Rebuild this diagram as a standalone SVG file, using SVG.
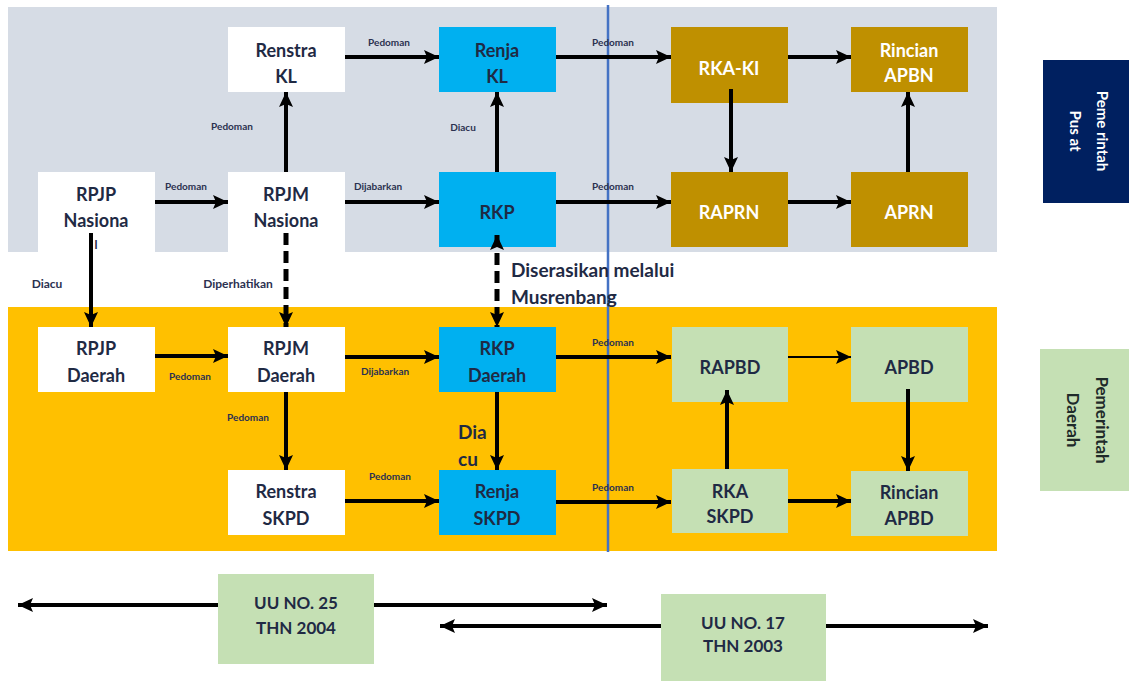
<svg xmlns="http://www.w3.org/2000/svg" width="1129" height="681" viewBox="0 0 1129 681">
<style>
.t{font-family:Lato,"Open Sans","Liberation Sans",sans-serif;font-weight:bold;font-size:18px;fill:#1F2A44;text-anchor:middle}
.w{fill:#ffffff}
.s{font-family:Lato,"Open Sans","Liberation Sans",sans-serif;font-weight:bold;font-size:10px;fill:#2B3150;text-anchor:middle}
.m{font-family:Lato,"Open Sans","Liberation Sans",sans-serif;font-weight:bold;font-size:12px;fill:#2B3150;text-anchor:middle}
.b{font-family:Lato,"Open Sans","Liberation Sans",sans-serif;font-weight:bold;font-size:19px;fill:#1F2A44}
.r{font-family:Lato,"Open Sans","Liberation Sans",sans-serif;font-weight:bold;text-anchor:middle}
.a{stroke:#000;stroke-width:4;fill:none;marker-end:url(#ah)}
.a2{stroke:#000;stroke-width:2;fill:none;marker-end:url(#ah)}
.d{stroke:#000;stroke-width:5;fill:none;stroke-dasharray:12 6;marker-end:url(#ah)}
.dd{stroke:#000;stroke-width:5;fill:none;stroke-dasharray:12 6;marker-end:url(#ah);marker-start:url(#ah)}
.bb{stroke:#000;stroke-width:4;fill:none;marker-end:url(#ah);marker-start:url(#ah)}
.wh{fill:#ffffff}.cy{fill:#00B0F0}.go{fill:#BF9000}.gr{fill:#C5E0B4}
</style>
<defs>
<marker id="ah" markerUnits="userSpaceOnUse" markerWidth="16" markerHeight="16" refX="15" refY="8" orient="auto-start-reverse" viewBox="0 0 16 16">
<path d="M0,1 L15,8 L0,15 L3,8 z" fill="#000"/>
</marker>
</defs>
<rect x="0" y="0" width="1129" height="681" fill="#ffffff"/>
<rect x="8" y="7" width="989" height="245" fill="#D6DCE5"/>
<rect x="8" y="307" width="989" height="244" fill="#FFC000"/>
<line x1="608" y1="5" x2="608" y2="552" stroke="#4472C4" stroke-width="2.5"/>

<g id="renstra-kl"><rect class="wh" x="228" y="27" width="117" height="65"/><text class="t" x="286" y="57">Renstra</text><text class="t" x="286" y="83">KL</text></g>
<g id="renja-kl"><rect class="cy" x="439" y="27" width="117" height="65"/><text class="t" x="497" y="57">Renja</text><text class="t" x="497" y="83">KL</text></g>
<g id="rka-kl"><rect class="go" x="671" y="27" width="117" height="76"/><text class="t w" x="729" y="75">RKA-KI</text></g>
<g id="rincian-apbn"><rect class="go" x="851" y="27" width="117" height="65"/><text class="t w" x="909" y="57">Rincian</text><text class="t w" x="909" y="82">APBN</text></g>
<g id="rpjp-nasional"><rect class="wh" x="38" y="172" width="117" height="80"/><text class="t" x="96" y="201">RPJP</text><text class="t" x="96" y="227">Nasiona</text><text class="t" x="96" y="249" style="font-size:12px">l</text></g>
<g id="rpjm-nasional"><rect class="wh" x="228" y="172" width="117" height="80"/><text class="t" x="286" y="201">RPJM</text><text class="t" x="286" y="227">Nasiona</text></g>
<g id="rkp"><rect class="cy" x="439" y="172" width="117" height="75"/><text class="t" x="497" y="219">RKP</text></g>
<g id="raprn"><rect class="go" x="671" y="172" width="117" height="75"/><text class="t w" x="729" y="219">RAPRN</text></g>
<g id="aprn"><rect class="go" x="851" y="172" width="117" height="75"/><text class="t w" x="909" y="219">APRN</text></g>

<g id="rpjp-daerah"><rect class="wh" x="38" y="327" width="117" height="65"/><text class="t" x="96" y="355">RPJP</text><text class="t" x="96" y="382">Daerah</text></g>
<g id="rpjm-daerah"><rect class="wh" x="228" y="327" width="117" height="65"/><text class="t" x="286" y="355">RPJM</text><text class="t" x="286" y="382">Daerah</text></g>
<g id="rkp-daerah"><rect class="cy" x="439" y="327" width="117" height="65"/><text class="t" x="497" y="355">RKP</text><text class="t" x="497" y="382">Daerah</text></g>
<g id="rapbd"><rect class="gr" x="672" y="327" width="116" height="75"/><text class="t" x="730" y="374">RAPBD</text></g>
<g id="apbd"><rect class="gr" x="851" y="327" width="117" height="75"/><text class="t" x="909" y="374">APBD</text></g>
<g id="renstra-skpd"><rect class="wh" x="228" y="470" width="117" height="65"/><text class="t" x="286" y="498">Renstra</text><text class="t" x="286" y="525">SKPD</text></g>
<g id="renja-skpd"><rect class="cy" x="439" y="470" width="117" height="65"/><text class="t" x="497" y="498">Renja</text><text class="t" x="497" y="525">SKPD</text></g>
<g id="rka-skpd"><rect class="gr" x="672" y="469" width="116" height="64"/><text class="t" x="730" y="498">RKA</text><text class="t" x="730" y="523">SKPD</text></g>
<g id="rincian-apbd"><rect class="gr" x="851" y="471" width="117" height="65"/><text class="t" x="909" y="499">Rincian</text><text class="t" x="909" y="525">APBD</text></g>

<g id="pemerintah-pusat"><rect x="1043" y="60" width="86" height="143" fill="#002060"/><text class="r" transform="translate(1097,131) rotate(90)" style="font-size:15px;fill:#fff">Peme rintah</text><text class="r" transform="translate(1070,131) rotate(90)" style="font-size:15px;fill:#fff">Pus at</text></g>
<g id="pemerintah-daerah"><rect x="1040" y="349" width="89" height="142" fill="#C5E0B4"/><text class="r" transform="translate(1096,420) rotate(90)" style="font-size:17px;fill:#1F2A2A">Pemerintah</text><text class="r" transform="translate(1067,420) rotate(90)" style="font-size:17px;fill:#1F2A2A">Daerah</text></g>

<g id="uu25"><rect class="gr" x="218" y="574" width="156" height="90"/><text class="t" x="296" y="609" style="font-size:17px">UU NO. 25</text><text class="t" x="296" y="634" style="font-size:17px">THN 2004</text></g>
<g id="uu17"><rect class="gr" x="661" y="594" width="165" height="87"/><text class="t" x="743" y="629" style="font-size:17px">UU NO. 17</text><text class="t" x="743" y="652" style="font-size:17px">THN 2003</text></g>

<g id="connectors">
<line class="a" x1="345" y1="57" x2="439" y2="57"/>
<line class="a" x1="556" y1="57" x2="671" y2="57"/>
<line class="a" x1="788" y1="57" x2="851" y2="57"/>
<line class="a" x1="731" y1="89" x2="731" y2="172"/>
<line class="a" x1="908" y1="172" x2="908" y2="92"/>
<line class="a" x1="155" y1="202" x2="228" y2="202"/>
<line class="a" x1="286" y1="172" x2="286" y2="92"/>
<line class="a" x1="345" y1="202" x2="439" y2="202"/>
<line class="a" x1="497" y1="172" x2="497" y2="92"/>
<line class="a" x1="556" y1="202" x2="671" y2="202"/>
<line class="a" x1="788" y1="202" x2="851" y2="202"/>
<line class="a" x1="91" y1="233" x2="91" y2="327"/>
<line class="d" x1="286" y1="233" x2="286" y2="327"/>
<line class="dd" x1="497" y1="235" x2="497" y2="327"/>
<line class="a" x1="155" y1="356" x2="228" y2="356"/>
<line class="a" x1="345" y1="357" x2="439" y2="357"/>
<line class="a" x1="286" y1="392" x2="286" y2="470"/>
<line class="a" x1="497" y1="392" x2="497" y2="470"/>
<line class="a" x1="345" y1="501" x2="439" y2="501"/>
<line class="a" x1="556" y1="357" x2="671" y2="357"/>
<line class="a" x1="556" y1="502" x2="671" y2="502"/>
<line class="a2" x1="788" y1="357" x2="851" y2="357"/>
<line class="a" x1="727" y1="469" x2="727" y2="390"/>
<line class="a" x1="908" y1="389" x2="908" y2="471"/>
<line class="a" x1="788" y1="501" x2="851" y2="501"/>
<line class="bb" x1="18" y1="605" x2="218" y2="605" style="marker-end:none"/>
<line class="bb" x1="374" y1="605" x2="607" y2="605" style="marker-start:none"/>
<line class="bb" x1="440" y1="626" x2="661" y2="626" style="marker-end:none"/>
<line class="bb" x1="826" y1="626" x2="988" y2="626" style="marker-start:none"/>
<text class="s" x="389" y="46">Pedoman</text>
<text class="s" x="613" y="46">Pedoman</text>
<text class="s" x="186" y="190">Pedoman</text>
<text class="s" x="232" y="130">Pedoman</text>
<text class="s" x="378" y="190">Dijabarkan</text>
<text class="s" x="463" y="131">Diacu</text>
<text class="s" x="613" y="190">Pedoman</text>
<text class="m" x="47" y="288">Diacu</text>
<text class="m" x="238" y="288">Diperhatikan</text>
<text class="b" x="511" y="277">Diserasikan melalui</text>
<text class="b" x="511" y="304">Musrenbang</text>
<text class="s" x="190" y="380">Pedoman</text>
<text class="s" x="385" y="375">Dijabarkan</text>
<text class="s" x="248" y="421">Pedoman</text>
<text class="b" x="458" y="439">Dia</text>
<text class="b" x="458" y="466">cu</text>
<text class="s" x="390" y="480">Pedoman</text>
<text class="s" x="613" y="346">Pedoman</text>
<text class="s" x="613" y="491">Pedoman</text>
</g>
</svg>
